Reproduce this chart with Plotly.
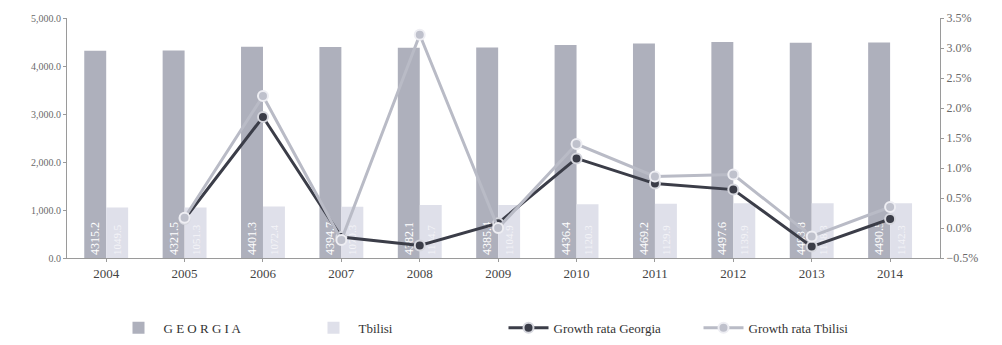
import plotly.graph_objects as go
from plotly.subplots import make_subplots

years = ["2004", "2005", "2006", "2007", "2008", "2009", "2010", "2011", "2012", "2013", "2014"]

# Population, thousand persons
georgia_pop = [4315.2, 4321.5, 4401.3, 4394.7, 4382.1, 4385.4, 4436.4, 4469.2, 4497.6, 4483.8, 4490.5]
tbilisi_pop = [1049.5, 1051.3, 1072.4, 1070.3, 1104.7, 1104.9, 1120.3, 1129.9, 1139.9, 1138.3, 1142.3]

# Annual growth rate, % (no value for the first year)
growth_years = years[1:]
growth_georgia = [0.15, 1.85, -0.15, -0.29, 0.08, 1.16, 0.74, 0.64, -0.31, 0.15]
growth_tbilisi = [0.17, 2.20, -0.20, 3.22, 0.00, 1.40, 0.86, 0.89, -0.14, 0.35]

serif = "Liberation Serif"
tick_color = "#6a6a6a"

fig = make_subplots(specs=[[{"secondary_y": True}]])

fig.add_trace(go.Bar(
    x=years, y=georgia_pop, name="G E O R G I A",
    marker=dict(color="#aeb0bc", line=dict(width=0)),
    text=[f"{v:.1f}" for v in georgia_pop],
    textposition="inside", insidetextanchor="start", textangle=-90,
    textfont=dict(family=serif, size=12, color="#ffffff"),
), secondary_y=False)

fig.add_trace(go.Bar(
    x=years, y=tbilisi_pop, name="Tbilisi",
    marker=dict(color="#dfe0ea", line=dict(width=0)),
    text=[f"{v:.1f}" for v in tbilisi_pop],
    textposition="inside", insidetextanchor="start", textangle=-90,
    textfont=dict(family=serif, size=11, color="#f4f4f8"),
), secondary_y=False)

fig.add_trace(go.Scatter(
    x=growth_years, y=growth_georgia, name="Growth rata Georgia",
    mode="lines+markers",
    line=dict(color="#3b3d48", width=3),
    marker=dict(size=10, color="#3b3d48", line=dict(color="#d6d7de", width=2)),
), secondary_y=True)

fig.add_trace(go.Scatter(
    x=growth_years, y=growth_tbilisi, name="Growth rata Tbilisi",
    mode="lines+markers",
    line=dict(color="#b9bbc6", width=3),
    marker=dict(size=10, color="#bfc1cc", line=dict(color="#eeeef3", width=2)),
), secondary_y=True)

fig.update_layout(
    width=1002, height=345,
    margin=dict(l=67, r=62, t=18, b=87),
    paper_bgcolor="white", plot_bgcolor="white",
    barmode="group", bargap=0.44, bargroupgap=0.0,
    font=dict(family=serif, size=12, color="#444444"),
    legend=dict(
        orientation="h", x=0.5, xanchor="center",
        yref="container", y=0.05, yanchor="middle",
        font=dict(family=serif, size=13, color="#333333"),
        itemwidth=40, entrywidth=140, traceorder="normal",
        tracegroupgap=0,
    ),
    showlegend=True,
)

fig.update_xaxes(
    type="category", showgrid=False, domain=[0, 1],
    showline=True, linecolor="#9a9a9a", linewidth=1,
    ticks="outside", ticklen=3, tickcolor="#9a9a9a",
    tickfont=dict(family=serif, size=13, color="#444444"),
)

fig.update_yaxes(
    range=[0, 5000], dtick=1000, tickformat=",.1f",
    showgrid=False, zeroline=False,
    showline=True, linecolor="#9a9a9a", linewidth=1,
    ticks="outside", ticklen=3, tickcolor="#9a9a9a",
    tickfont=dict(family=serif, size=10, color=tick_color),
    secondary_y=False,
)

fig.update_yaxes(
    range=[-0.5, 3.5], dtick=0.5, tickformat=".1f", ticksuffix="%",
    showgrid=False, zeroline=False,
    showline=True, linecolor="#9a9a9a", linewidth=1,
    ticks="outside", ticklen=3, tickcolor="#9a9a9a",
    tickfont=dict(family=serif, size=12, color=tick_color),
    secondary_y=True,
)

fig.write_html("out.html")
